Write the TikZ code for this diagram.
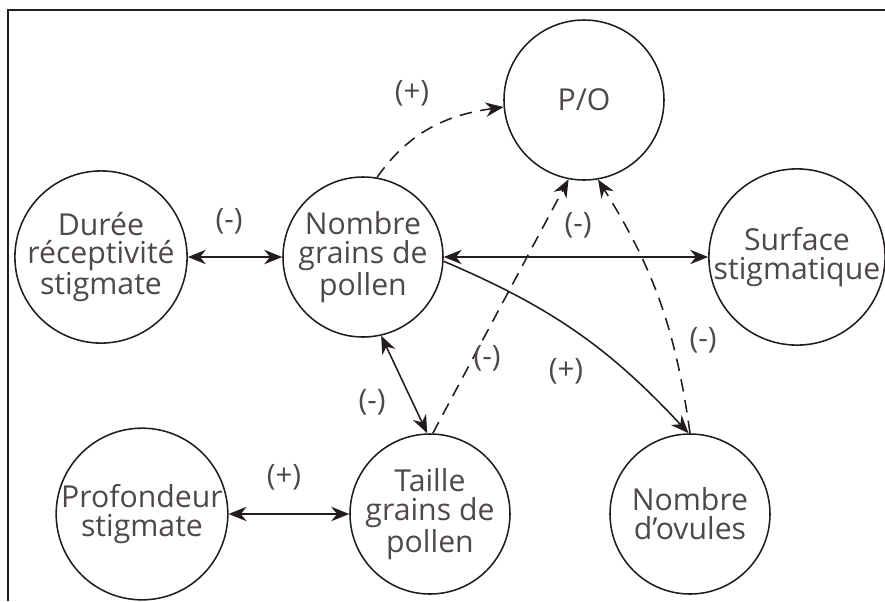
\documentclass[tikz,border=0pt]{standalone}
\usepackage{fontspec}
\setmainfont{Open Sans}
\usepackage{xcolor}
\usetikzlibrary{arrows.meta,positioning}
\definecolor{inkline}{RGB}{35,28,28}
\definecolor{inktext}{RGB}{78,72,72}

\begin{document}
\begin{tikzpicture}[
  every node/.style={font=\fontsize{21.5}{20.5}\selectfont, text=inktext},
  factor/.style={circle, draw=inkline, line width=1.1pt, minimum size=4cm,
                 inner sep=0pt, align=center},
  link/.style={{Stealth[length=4.5mm,width=3.6mm]}-{Stealth[length=4.5mm,width=3.6mm]},
               line width=1.1pt, inkline},
  effect/.style={-{Stealth[length=4.5mm,width=3.6mm]}, line width=1.1pt, inkline,
                 dash pattern=on 9pt off 6pt},
  sign/.style={font=\fontsize{21}{22}\selectfont},
]

% ===== Overall dimensions =====
% 1 px of the figure = 0.025 cm, x in [0, 22.125], y in [-15.025, 0]
\useasboundingbox (0,0) rectangle (22.125,-15.025);

%% ---- FRAME ----
\draw[inkline, line width=0.9pt] (0.2,-15.025) -- (0.2,-0.25) -- (22.125,-0.25);

%% ---- FACTORS ----
\node[factor] (po)         at (14.6,-2.5)   {P/O};
\node[factor] (duree)      at (2.525,-6.425) {Durée\\réceptivité\\stigmate};
\node[factor] (grains)     at (9.075,-6.425) {Nombre\\grains de\\pollen};
\node[factor] (surface)    at (19.925,-6.425) {Surface\\stigmatique};
\node[factor] (profondeur) at (3.55,-12.85)  {Profondeur\\stigmate};
\node[factor] (taille)     at (10.75,-12.85) {Taille\\grains de\\pollen};
\node[factor] (ovules)     at (17.25,-12.85) {Nombre\\d’ovules};

%% ---- SOLID LINKS ----
\draw[link] (duree) -- (grains);
\draw[link] (grains) -- (surface);
\draw[link] (grains.-77) -- (taille.92);
\draw[link] (profondeur) -- (taille);
\draw[-{Stealth[length=4.5mm,width=3.6mm]}, line width=1.1pt, inkline]
  (grains.-3) to[bend left=12] (ovules.91);

%% ---- DASHED EFFECTS ON P/O ----
\draw[effect] (grains.80) to[out=55, in=188] (po.185);
\draw[effect] (taille.88) -- (po.259);
\draw[effect] (ovules.90) to[bend right=12] (po.280);

%% ---- SIGNS ----
\node[sign] (s1) at (5.725,-5.525)  {(-)};
\node[sign] (s2) at (14.45,-5.625)  {(-)};
\node[sign] (s3) at (10.3,-2.325)   {(+)};
\node[sign] (s4) at (9.3,-10.05)    {(-)};
\node[sign] (s5) at (12.175,-8.95)  {(-)};
\node[sign] (s6) at (14.15,-9.275)  {(+)};
\node[sign] (s7) at (17.575,-8.5)   {(-)};
\node[sign] (s8) at (7.1,-11.925)   {(+)};

\end{tikzpicture}
\end{document}
